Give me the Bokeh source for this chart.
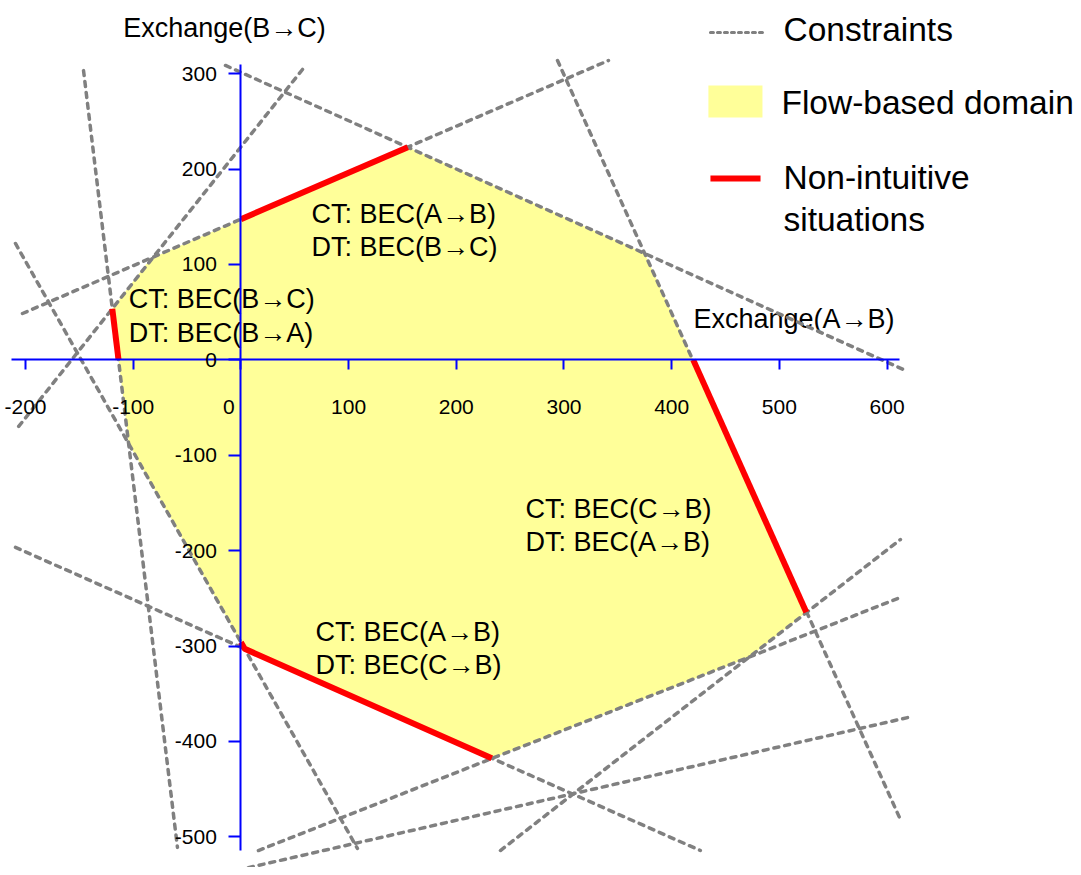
from bokeh.plotting import figure
from bokeh.models import Range1d, LinearAxis, FixedTicker, Grid
from bokeh.core.properties import value
from bokeh.embed import file_html
from bokeh.resources import INLINE

FONT = "Liberation Sans"

# ---- data -------------------------------------------------------------
# constraint lines (start / end points, MW)
con_x0 = [294.0, -14.3, -202.8, 57.2, -146.1, -209.3, -209.3, 16.3, 241.0, -32.9]
con_y0 = [313.8, 308.6, 48.6, 304.4, 303.2, 122.0, -196.6, -514.3, -514.3, -542.5]
con_x1 = [611.5, 617.0, 341.3, -209.3, -58.9, 108.2, 426.6, 609.7, 612.4, 619.8]
con_y1 = [-479.6, -11.0, 313.8, -74.0, -511.0, -512.1, -514.3, -250.2, -188.3, -374.8]

# flow-based domain vertices
domain_x = [-84.0, 0.0, 155.0, 375.0, 420.0, 525.0, 472.0, 233.0, 3.5, 0.0, -104.0, -113.6, -119.4]
domain_y = [106.0, 147.4, 223.0, 111.5, 0.0, -264.6, -311.6, -417.7, -302.9, -296.0, -88.0, 0.0, 53.6]

# non-intuitive segments
red_xs = [[0.0, 155.0], [420.0, 525.0], [0.0, 3.5, 233.0], [-119.4, -113.6]]
red_ys = [[147.4, 223.0], [0.0, -264.6], [-296.0, -302.9, -417.7], [53.6, 0.0]]

x_ticks = [-200, -100, 0, 100, 200, 300, 400, 500, 600]
y_ticks = [-500, -400, -300, -200, -100, 0, 100, 200, 300]

ann_text = ["CT: BEC(A\u2192B)", "DT: BEC(B\u2192C)",
            "CT: BEC(B\u2192C)", "DT: BEC(B\u2192A)",
            "CT: BEC(C\u2192B)", "DT: BEC(A\u2192B)",
            "CT: BEC(A\u2192B)", "DT: BEC(C\u2192B)"]
ann_x = [65.6, 65.6, -104.1, -104.1, 264.2, 264.2, 69.3, 69.3]
ann_y = [152.5, 117.8, 63.3, 28.2, -155.8, -191.4, -285.2, -320.3]

axis_titles = ["Exchange(B\u2192C)", "Exchange(A\u2192B)"]
axis_title_x = [-109.3, 420.2]
axis_title_y = [347.9, 42.5]

legend_labels = ["Constraints", "Flow-based domain", "Non-intuitive", "situations"]
legend_label_x = [503.8, 501.9, 503.8, 503.8]
legend_label_y = [346.0, 269.8, 190.9, 147.4]

# ---- figure -----------------------------------------------------------
p = figure(width=1073, height=867,
           x_range=Range1d(-223.2, 773.1), y_range=Range1d(-532.1, 376.7),
           output_backend="svg", toolbar_location=None,
           x_axis_location=None, y_axis_location=None,
           min_border=0, outline_line_color=None, background_fill_color="white")
for r in list(p.center):
    if isinstance(r, Grid):
        r.visible = False

# domain
p.patch(domain_x, domain_y, fill_color="#FFFF99", line_color=None)

# axis titles
p.text(x=axis_title_x, y=axis_title_y, text=axis_titles,
       text_font=value(FONT), text_font_size="27px",
       text_baseline="middle", text_align="left", text_color="black")

# constraints
p.segment(x0=con_x0, y0=con_y0, x1=con_x1, y1=con_y1,
          line_color="#808080", line_width=3.5, line_dash="5 6", line_cap="round")

# non-intuitive
p.multi_line(xs=red_xs, ys=red_ys, line_color="#FF0000", line_width=6)

# axes through the origin
xaxis = LinearAxis(fixed_location=0, ticker=FixedTicker(ticks=x_ticks), bounds=(-212.6, 611.5))
yaxis = LinearAxis(fixed_location=0, ticker=FixedTicker(ticks=y_ticks), bounds=(-514.3, 309.6))
for ax, ticks in ((xaxis, x_ticks), (yaxis, y_ticks)):
    ax.axis_line_color = "#0000FF"
    ax.axis_line_width = 2
    ax.major_tick_line_color = "#0000FF"
    ax.major_tick_line_width = 2
    ax.major_tick_in = 0
    ax.minor_tick_line_color = None
    ax.major_label_text_font = FONT
    ax.major_label_text_font_size = "21px"
    ax.major_label_text_color = "black"
    ax.major_label_overrides = {t: str(t) for t in ticks}
xaxis.major_tick_out = 10
xaxis.major_label_standoff = 30
xaxis.major_label_overrides = {t: (str(t) if t != 0 else "") for t in x_ticks}
yaxis.major_tick_out = 12
yaxis.major_label_standoff = 12
p.add_layout(xaxis, "below")
p.add_layout(yaxis, "left")

# x-axis zero label (shifted left of the origin as in the original)
p.text(x=[0], y=[0], text=["0"], x_offset=-12, y_offset=47,
       text_font=value(FONT), text_font_size="21px",
       text_baseline="middle", text_align="center", text_color="black")

# annotations
p.text(x=ann_x, y=ann_y, text=ann_text,
       text_font=value(FONT), text_font_size="27px",
       text_baseline="middle", text_align="left", text_color="black")

# legend
p.line(x=[436.0, 484.3], y=[343.2, 343.2], line_color="#808080", line_width=3,
       line_dash="3 4", line_cap="round")
p.quad(left=[434.1], right=[484.3], top=[287.6], bottom=[254.1],
       fill_color="#FFFF99", line_color=None)
p.line(x=[436.0, 482.5], y=[190.1, 190.1], line_color="#FF0000", line_width=6)
p.text(x=legend_label_x, y=legend_label_y, text=legend_labels,
       text_font=value(FONT), text_font_size="33.5px",
       text_baseline="middle", text_align="left", text_color="black")

open("out.html", "w").write(file_html(p, INLINE))
